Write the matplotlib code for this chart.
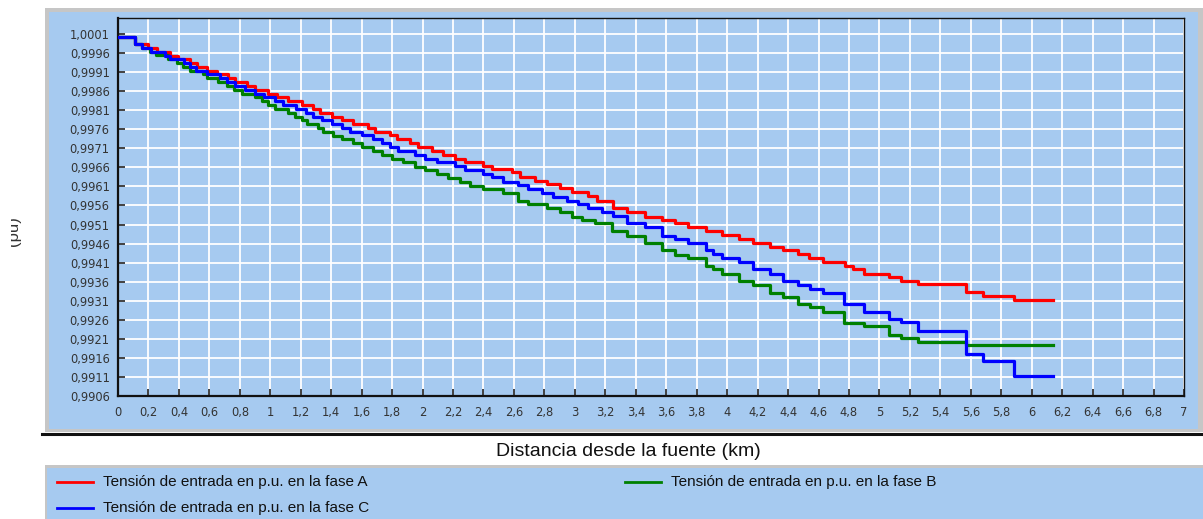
import matplotlib
matplotlib.use("Agg")
import matplotlib.pyplot as plt
from matplotlib.patches import Rectangle
from matplotlib.lines import Line2D
from matplotlib.ticker import FixedLocator, FuncFormatter
from matplotlib.transforms import Bbox
import numpy as np

# Step profiles: distance (km) where each level starts, and voltage (p.u.)
dist_a = [0.000, 0.112, 0.197, 0.256, 0.341, 0.394, 0.473, 0.519, 0.584, 0.650,
          0.722, 0.768, 0.847, 0.900, 0.985, 1.044, 1.116, 1.208, 1.282, 1.326,
          1.403, 1.469, 1.545, 1.643, 1.687, 1.786, 1.830, 1.917, 1.972, 2.060,
          2.136, 2.213, 2.278, 2.399, 2.454, 2.585, 2.640, 2.738, 2.815, 2.902,
          2.979, 3.088, 3.143, 3.252, 3.340, 3.460, 3.570, 3.657, 3.745, 3.861,
          3.964, 4.079, 4.171, 4.281, 4.368, 4.467, 4.539, 4.627, 4.773, 4.828,
          4.898, 5.064, 5.141, 5.251, 5.568, 5.678, 5.885]
volt_a = [1.00002, 0.99984, 0.99972, 0.99962, 0.99952, 0.99944, 0.99933, 0.99923, 0.99914, 0.99904,
          0.99894, 0.99883, 0.99874, 0.99864, 0.99853, 0.99845, 0.99834, 0.99824, 0.99813, 0.99803,
          0.99793, 0.99784, 0.99773, 0.99763, 0.99754, 0.99744, 0.99734, 0.99723, 0.99713, 0.99703,
          0.99693, 0.99683, 0.99673, 0.99664, 0.99656, 0.99647, 0.99635, 0.99625, 0.99616, 0.99605,
          0.99595, 0.99585, 0.99573, 0.99553, 0.99544, 0.99530, 0.99522, 0.99513, 0.99503, 0.99493,
          0.99482, 0.99472, 0.99462, 0.99452, 0.99442, 0.99432, 0.99422, 0.99412, 0.99402, 0.99392,
          0.99381, 0.99371, 0.99362, 0.99353, 0.99332, 0.99322, 0.99311]

dist_b = [0.000, 0.112, 0.160, 0.210, 0.250, 0.328, 0.387, 0.429, 0.473, 0.560,
          0.582, 0.659, 0.714, 0.762, 0.812, 0.900, 0.944, 0.987, 1.031, 1.118,
          1.162, 1.206, 1.239, 1.315, 1.348, 1.414, 1.469, 1.545, 1.600, 1.676,
          1.731, 1.797, 1.873, 1.950, 2.016, 2.093, 2.169, 2.246, 2.311, 2.399,
          2.530, 2.628, 2.694, 2.815, 2.902, 2.979, 3.045, 3.132, 3.242, 3.340,
          3.460, 3.570, 3.657, 3.745, 3.861, 3.909, 3.964, 4.079, 4.171, 4.281,
          4.368, 4.467, 4.544, 4.627, 4.767, 4.898, 5.064, 5.141, 5.251, 5.568]
volt_b = [1.00002, 0.99984, 0.99972, 0.99962, 0.99954, 0.99944, 0.99934, 0.99923, 0.99914, 0.99904,
          0.99895, 0.99885, 0.99874, 0.99863, 0.99853, 0.99845, 0.99834, 0.99824, 0.99813, 0.99803,
          0.99792, 0.99784, 0.99773, 0.99763, 0.99754, 0.99743, 0.99734, 0.99723, 0.99713, 0.99703,
          0.99693, 0.99683, 0.99673, 0.99662, 0.99653, 0.99643, 0.99633, 0.99622, 0.99612, 0.99602,
          0.99593, 0.99572, 0.99563, 0.99553, 0.99544, 0.99530, 0.99522, 0.99513, 0.99494, 0.99481,
          0.99461, 0.99443, 0.99430, 0.99421, 0.99402, 0.99392, 0.99381, 0.99362, 0.99352, 0.99331,
          0.99321, 0.99302, 0.99293, 0.99281, 0.99252, 0.99244, 0.99221, 0.99212, 0.99202, 0.99193]

dist_c = [0.000, 0.112, 0.160, 0.215, 0.309, 0.341, 0.433, 0.475, 0.512, 0.582,
          0.670, 0.718, 0.768, 0.834, 0.900, 0.959, 1.031, 1.085, 1.167, 1.234,
          1.282, 1.337, 1.403, 1.469, 1.523, 1.600, 1.676, 1.731, 1.786, 1.840,
          1.950, 2.016, 2.093, 2.213, 2.278, 2.399, 2.454, 2.530, 2.628, 2.694,
          2.782, 2.858, 2.946, 3.022, 3.088, 3.176, 3.252, 3.340, 3.460, 3.570,
          3.657, 3.745, 3.861, 3.909, 3.964, 4.079, 4.171, 4.281, 4.368, 4.467,
          4.544, 4.627, 4.767, 4.898, 5.064, 5.141, 5.251, 5.568, 5.678, 5.885]
volt_c = [1.00002, 0.99984, 0.99972, 0.99962, 0.99952, 0.99944, 0.99933, 0.99923, 0.99914, 0.99904,
          0.99894, 0.99883, 0.99874, 0.99864, 0.99853, 0.99845, 0.99834, 0.99824, 0.99813, 0.99804,
          0.99793, 0.99784, 0.99773, 0.99763, 0.99754, 0.99744, 0.99734, 0.99723, 0.99713, 0.99703,
          0.99693, 0.99683, 0.99673, 0.99664, 0.99653, 0.99643, 0.99635, 0.99622, 0.99614, 0.99603,
          0.99593, 0.99583, 0.99572, 0.99563, 0.99553, 0.99544, 0.99532, 0.99513, 0.99503, 0.99481,
          0.99472, 0.99461, 0.99442, 0.99432, 0.99421, 0.99412, 0.99392, 0.99381, 0.99362, 0.99351,
          0.99342, 0.99331, 0.99302, 0.99281, 0.99261, 0.99253, 0.99231, 0.99171, 0.99152, 0.99112]

end_km = 6.137

series_labels = ["Tensión de entrada en p.u. en la fase A",
                 "Tensión de entrada en p.u. en la fase B",
                 "Tensión de entrada en p.u. en la fase C"]
series_colors = ["#FF0000", "#008000", "#0000FF"]

x_ticks = [round(0.2 * i, 1) for i in range(36)]
y_ticks = [round(0.9906 + 0.0005 * i, 4) for i in range(20)]

x_title = "Distancia desde la fuente (km)"
y_title = "(pu)"

# ---------------------------------------------------------------------------
W, H = 1203, 519
fig = plt.figure(figsize=(W / 100, H / 100), dpi=100)
fig.patch.set_facecolor("white")

def fx(px):
    return px / W

def fy(py):
    return 1 - py / H

panel_blue = "#A6CAF0"
border_gray = "#C6C6C6"

# chart panel with a grey bevel and a dark bottom edge
fig.patches.append(Rectangle((fx(45), fy(432)), (1203 - 45) / W, (432 - 8) / H,
                             transform=fig.transFigure, facecolor=border_gray,
                             edgecolor="none", zorder=0))
fig.patches.append(Rectangle((fx(49), fy(429)), (1198 - 49) / W, (429 - 12) / H,
                             transform=fig.transFigure, facecolor=panel_blue,
                             edgecolor="none", zorder=0))
fig.lines.append(Line2D([fx(42), fx(1203)], [fy(433.5), fy(433.5)],
                        transform=fig.transFigure, color="#111111", lw=2.2))

# legend panel
fig.patches.append(Rectangle((fx(45), 0), (1203 - 45) / W, (519 - 465) / H,
                             transform=fig.transFigure, facecolor=border_gray,
                             edgecolor="none", zorder=0))
fig.patches.append(Rectangle((fx(47), 0), (1203 - 47) / W, (519 - 468) / H,
                             transform=fig.transFigure, facecolor=panel_blue,
                             edgecolor="none", zorder=0))

ax = fig.add_axes([fx(118), fy(396), (1184 - 118) / W, (396 - 18) / H])
ax.set_zorder(5)
ax.set_facecolor(panel_blue)

profiles = [(dist_a, volt_a), (dist_b, volt_b), (dist_c, volt_c)]
for (d, v), col, lab in zip(profiles, series_colors, series_labels):
    ax.step(list(d) + [end_km], list(v) + [v[-1]], where="post",
            color=col, lw=2.3, label=lab, zorder=3)

ax.set_xlim(0, 7)
ax.set_ylim(0.9906, 1.00052)

ax.xaxis.set_major_locator(FixedLocator(x_ticks))
ax.yaxis.set_major_locator(FixedLocator(y_ticks))


def fmt_x(v, _):
    s = f"{v:.1f}".rstrip("0").rstrip(".")
    return s.replace(".", ",")


def fmt_y(v, _):
    return f"{v:.4f}".replace(".", ",")


ax.xaxis.set_major_formatter(FuncFormatter(fmt_x))
ax.yaxis.set_major_formatter(FuncFormatter(fmt_y))

ax.grid(True, color="white", lw=1.3)
ax.set_axisbelow(True)
ax.tick_params(direction="in", length=5, width=1.2, color="#222222",
               labelsize=8.3, labelcolor="#333333")
ax.tick_params(axis="x", pad=7)
ax.tick_params(axis="y", pad=6)
for side in ("left", "bottom"):
    ax.spines[side].set_linewidth(1.6)
    ax.spines[side].set_color("#111111")
for side in ("top", "right"):
    ax.spines[side].set_linewidth(1.0)
    ax.spines[side].set_color("#111111")

fig.text(fx(628), fy(451), x_title, ha="center", va="center",
         fontsize=14, family="Liberation Sans", color="#111111")

yt = fig.text(fx(13), fy(231), y_title, ha="center", va="center", rotation=90,
              fontsize=12, family="Liberation Sans", color="#333333")
yt.set_clip_on(True)
yt.set_clip_box(Bbox.from_extents(11, 0, W, H))

# legend entries drawn in the bottom panel
handles, labels = ax.get_legend_handles_labels()
entry_pos = [(57, 482), (625, 482), (57, 508)]
for h, lab, (px, py) in zip(handles, labels, entry_pos):
    fig.lines.append(Line2D([fx(px), fx(px + 36)], [fy(py), fy(py)],
                            transform=fig.transFigure, color=h.get_color(), lw=2.0))
    fig.text(fx(px + 46), fy(py), lab, ha="left", va="center", fontsize=11,
             family="Liberation Sans", color="#111111")

fig.savefig("out.png", dpi=100)
